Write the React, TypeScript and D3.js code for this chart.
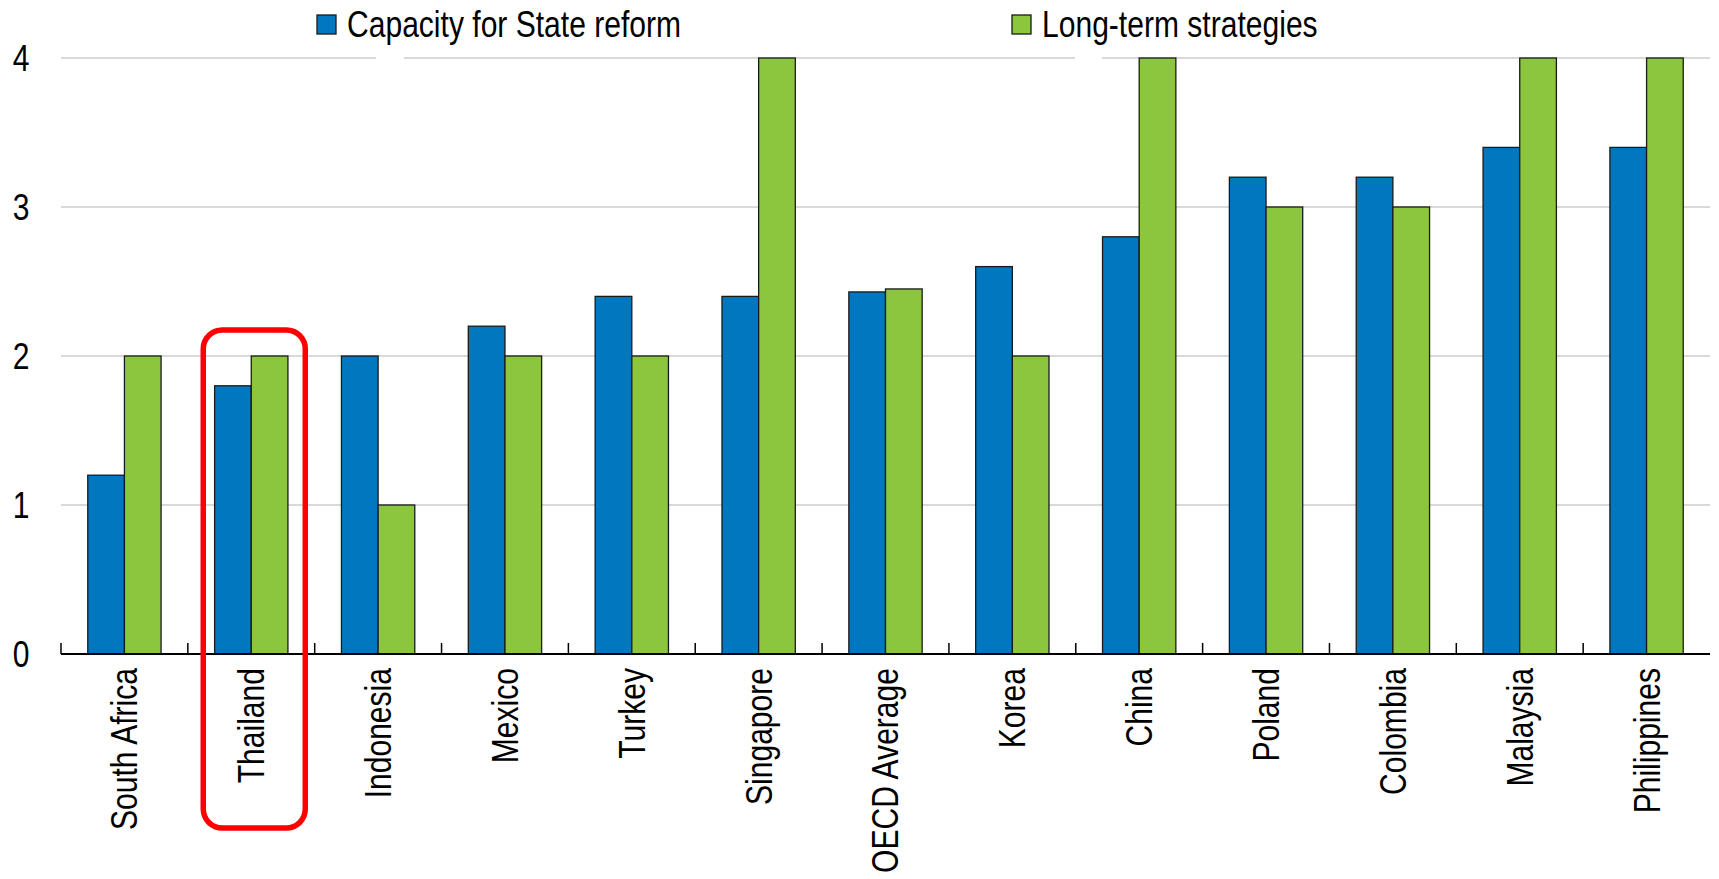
import { useMemo } from "react";
import * as d3 from "d3";

const categories = [
  "South Africa",
  "Thailand",
  "Indonesia",
  "Mexico",
  "Turkey",
  "Singapore",
  "OECD Average",
  "Korea",
  "China",
  "Poland",
  "Colombia",
  "Malaysia",
  "Philippines",
];
const capacityValues = [1.2, 1.8, 2, 2.2, 2.4, 2.4, 2.43, 2.6, 2.8, 3.2, 3.2, 3.4, 3.4];
const longTermValues = [2, 2, 1, 2, 2, 4, 2.45, 2, 4, 3, 3, 4, 4];
const seriesNames = ["Capacity for State reform", "Long-term strategies"];
const seriesColors = ["#0077be", "#8cc63f"];
const yTicks = [0, 1, 2, 3, 4];
const highlighted = "Thailand";

const W = 1719;
const H = 879;
// Arial Narrow look: Liberation Sans squeezed horizontally
const FONT = "'Liberation Sans', Arial, sans-serif";
const NARROW = 0.835;
const FS = 36;

export default function App() {
  const x = useMemo(
    () => d3.scaleBand<string>().domain(categories).range([61, 1710]).paddingInner(0).paddingOuter(0),
    [],
  );
  const y = useMemo(() => d3.scaleLinear().domain([0, 4]).range([654, 58]), []);
  const inner = useMemo(
    () => d3.scaleBand<number>().domain([0, 1]).range([0, x.bandwidth()]).paddingOuter(0.73).paddingInner(0),
    [x],
  );

  const rows = categories.map((c, i) => ({ c, v: [capacityValues[i], longTermValues[i]] }));
  const hx = (x(highlighted) ?? 0) + x.bandwidth() / 2;

  return (
    <svg width={W} height={H} style={{ position: "absolute", left: 0, top: 0, background: "#fff" }} fontFamily={FONT}>
      {/* gridlines */}
      {yTicks.filter((t) => t > 0).map((t) => (
        <line key={t} x1={61} x2={1710} y1={y(t)} y2={y(t)} stroke="#cccccc" strokeWidth={1.5} />
      ))}
      {/* small breaks in the top gridline under the legend */}
      <rect x={376} y={y(4) - 2} width={28} height={4} fill="#fff" />
      <rect x={1075} y={y(4) - 2} width={27} height={4} fill="#fff" />

      {yTicks.map((t) => (
        <text
          key={t}
          transform={`translate(21,${y(t)}) scale(${NARROW},1)`}
          dy="0.36em"
          textAnchor="middle"
          fontSize={FS}
          fill="#000"
        >
          {t}
        </text>
      ))}

      {/* bars */}
      {rows.map((r) =>
        r.v.map((v, j) => (
          <rect
            key={r.c + j}
            x={(x(r.c) ?? 0) + (inner(j) ?? 0)}
            y={y(v)}
            width={inner.bandwidth()}
            height={y(0) - y(v)}
            fill={seriesColors[j]}
            stroke="#1a1a1a"
            strokeWidth={1.3}
          />
        )),
      )}

      {/* x axis */}
      <line x1={61} x2={1710} y1={y(0)} y2={y(0)} stroke="#000" strokeWidth={1.8} />
      {categories.map((c) => (
        <line key={c} x1={x(c)} x2={x(c)} y1={y(0)} y2={y(0) - 11} stroke="#000" strokeWidth={1.5} />
      ))}
      {categories.map((c) => (
        <text
          key={c}
          transform={`translate(${(x(c) ?? 0) + x.bandwidth() / 2},${y(0) + 14}) rotate(-90) scale(${NARROW},1)`}
          textAnchor="end"
          dy="0.36em"
          fontSize={FS}
          fill="#000"
        >
          {c}
        </text>
      ))}

      {/* highlight box */}
      <rect
        x={hx - 48}
        y={y(2) - 26}
        width={102}
        height={498}
        rx={19}
        fill="none"
        stroke="#ff0000"
        strokeWidth={5.5}
      />

      {/* legend */}
      {seriesNames.map((n, i) => {
        const lx = [317, 1012][i];
        return (
          <g key={n}>
            <rect x={lx} y={15} width={19} height={19} fill={seriesColors[i]} stroke="#1a1a1a" strokeWidth={1.3} />
            <text transform={`translate(${lx + 30},37) scale(${NARROW},1)`} fontSize={FS} fill="#000">
              {n}
            </text>
          </g>
        );
      })}
    </svg>
  );
}
